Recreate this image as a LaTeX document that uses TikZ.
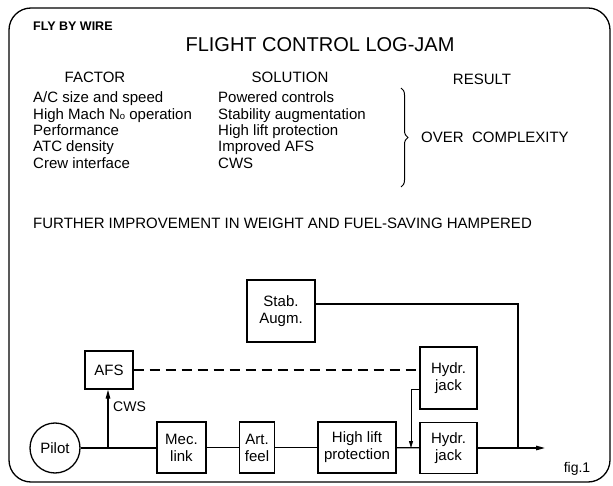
\documentclass[tikz,border=0pt]{standalone}
\usepackage{fontspec}
\setmainfont{Liberation Sans}
\usetikzlibrary{arrows.meta,decorations.pathreplacing}
\begin{document}
\begin{tikzpicture}[x=1pt,y=-1pt,
  txt/.style={inner sep=0pt, anchor=base west, font=\fontsize{15}{17}\selectfont},
  hdr/.style={inner sep=0pt, anchor=base, font=\fontsize{15}{17}\selectfont},
  blk/.style={draw, line width=1.3pt, inner sep=0pt, align=center, font=\fontsize{15}{17}\selectfont},
  ln/.style={line width=1.3pt},
  thin/.style={line width=0.8pt},
  tip/.style={-{Triangle[length=9pt,width=4.5pt]}}]
\useasboundingbox (0,0) rectangle (613,486);
\draw[line width=1.3pt, rounded corners=22pt] (9,8) rectangle (610,482);

\node[inner sep=0pt, anchor=base west, font=\fontsize{12.5}{14}\selectfont\bfseries] (fbw) at (33,31) {FLY BY WIRE};
\node[inner sep=0pt, anchor=base, font=\fontsize{20}{22}\selectfont] (title) at (320,52) {FLIGHT CONTROL LOG-JAM};

\node[hdr] (hf) at (95,83) {FACTOR};
\node[hdr] (hs) at (290,83) {SOLUTION};
\node[hdr] (hr) at (482,85) {RESULT};

\node[txt] (f1) at (33,103) {A/C size and speed};
\node[txt] (f2) at (33,119.3) {High Mach N{\fontsize{9.5}{10}\selectfont o} operation};
\node[txt] (f3) at (33,135.6) {Performance};
\node[txt] (f4) at (33,151.9) {ATC density};
\node[txt] (f5) at (33,168.2) {Crew interface};

\node[txt] (s1) at (218,103) {Powered controls};
\node[txt] (s2) at (218,119.3) {Stability augmentation};
\node[txt] (s3) at (218,135.6) {High lift protection};
\node[txt] (s4) at (218,151.9) {Improved AFS};
\node[txt] (s5) at (218,168.2) {CWS};

\draw[line width=1pt, decorate, decoration={brace, amplitude=7pt}] (401,88) -- (401,187);
\node[txt] (oc) at (421,143) {OVER\ \ COMPLEXITY};

\node[txt] (fur) at (33,229) {FURTHER IMPROVEMENT IN WEIGHT AND FUEL-SAVING HAMPERED};

% diagram
\node[draw, circle, line width=1.3pt, minimum size=50pt, inner sep=0pt, font=\fontsize{15}{17}\selectfont] (pilot) at (55,448) {Pilot};
\node[blk, minimum width=48pt, minimum height=38pt] (afs) at (109,370) {AFS};
\node[blk, minimum width=49pt, minimum height=51pt] (mec) at (181.5,447.5) {Mec.\\link};
\node[blk, minimum width=35pt, minimum height=51pt] (art) at (257,447.5) {Art.\\feel};
\node[blk, minimum width=78pt, minimum height=51pt] (hlp) at (357,447.5) {High lift\\protection};
\node[blk, minimum width=57pt, minimum height=51pt] (hj1) at (448.5,448) {Hydr.\\jack};
\node[blk, minimum width=57pt, minimum height=62pt] (hj2) at (448.5,378) {Hydr.\\jack};
\node[blk, minimum width=68pt, minimum height=62pt] (stab) at (281,311) {Stab.\\Augm.};

\node[inner sep=0pt, anchor=base west, font=\fontsize{14}{16}\selectfont] (cws) at (113,411) {CWS};
\node[inner sep=0pt, anchor=base, font=\fontsize{14}{16}\selectfont] (fig) at (577,472) {fig.1};

\coordinate (j) at (108,448);
\coordinate (sj) at (518,448);
\coordinate (aj) at (411,448);
\coordinate (out) at (545,448);

\draw[ln] (pilot.east) -- (pilot.east -| mec.west);
\draw[ln] (mec) -- (art);
\draw[ln] (art) -- (hlp);
\draw[ln] (hlp) -- (hj1);
\draw[ln, tip] (hj1.east) -- (out);
\draw[ln, tip] (j) -- (j |- afs.south);
\draw[ln] ([yshift=7pt]stab.east) -| (sj);
\draw[ln, dash pattern=on 10pt off 6pt] (afs.east) -- (afs.east -| hj2.west);
\draw[thin, -{Triangle[length=7pt,width=4pt]}] ([yshift=-11pt]hj2.west) -| (aj);
\end{tikzpicture}
\end{document}
